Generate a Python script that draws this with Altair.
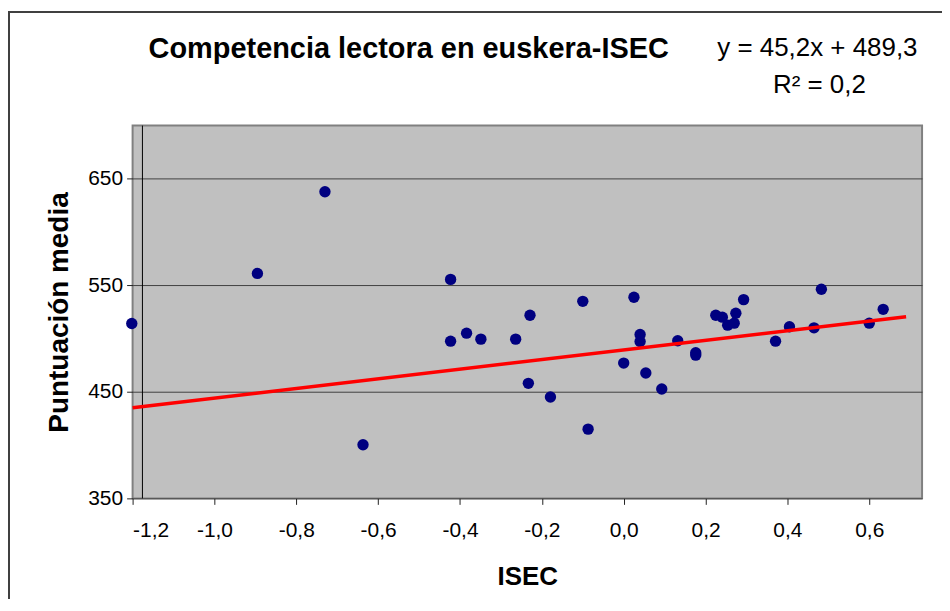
import altair as alt
import pandas as pd

# ---- data ----
isec = [-1.202, -0.895, -0.730, -0.637, -0.423, -0.423, -0.384, -0.349, -0.264,
        -0.229, -0.233, -0.179, -0.100, -0.087, 0.000, 0.025, 0.040, 0.040,
        0.054, 0.093, 0.132, 0.176, 0.176, 0.225, 0.241, 0.254, 0.270, 0.274,
        0.293, 0.371, 0.405, 0.465, 0.483, 0.600, 0.634]
puntuacion = [514.2, 561.2, 637.9, 400.3, 555.6, 497.6, 505.1, 499.5, 499.5,
              521.9, 458.0, 445.2, 535.0, 415.0, 477.0, 538.8, 503.9, 497.3,
              467.7, 452.7, 498.0, 486.8, 484.5, 521.9, 520.1, 512.6, 514.5, 523.8,
              536.6, 497.6, 511.1, 510.1, 546.3, 514.5, 527.5]

trend_x = [-1.2, 0.69]
trend_y = [435.1, 520.5]

axis_cross_x = [-1.176]

x_ticks = [-1.2, -1.0, -0.8, -0.6, -0.4, -0.2, 0.0, 0.2, 0.4, 0.6]
y_ticks = [350, 450, 550, 650]

title_text = "Competencia lectora en euskera-ISEC"
eq_line1 = "y = 45,2x + 489,3"
eq_line2 = "R² = 0,2"
x_title = "ISEC"
y_title = "Puntuación media"

FONT = "Liberation Sans"

pts = pd.DataFrame({"ISEC": isec, "P": puntuacion})
trend = pd.DataFrame({"ISEC": trend_x, "P": trend_y})
cross = pd.DataFrame({"ISEC": axis_cross_x})

xscale = alt.Scale(domain=[-1.2, 0.729], nice=False, zero=False)
yscale = alt.Scale(domain=[350, 700], nice=False, zero=False)

x_axis = alt.Axis(
    values=x_ticks,
    labelExpr="(datum.value < -0.001 ? '-' : '') + replace(format(abs(datum.value), '.1f'), '.', ',')",
    grid=False, domain=False, ticks=True, tickSize=6, tickColor="#222222",
    labelFont=FONT, labelFontSize=21, labelColor="#000000",
    labelBaseline="alphabetic", labelPadding=32,
    title=x_title, titleFont=FONT, titleFontSize=26, titleFontWeight="bold",
    titleColor="#000000", titleBaseline="alphabetic", titleY=86,
)
y_axis = alt.Axis(
    values=y_ticks, format="d",
    grid=True, gridColor="#404040", gridWidth=1,
    domain=False, ticks=True, tickSize=6, tickColor="#222222",
    labelFont=FONT, labelFontSize=21, labelColor="#000000", labelPadding=4,
    title=y_title, titleFont=FONT, titleFontSize=28, titleFontWeight="bold",
    titleColor="#000000", titleBaseline="alphabetic", titleX=-65, titleY=187,
    titleAngle=-90,
)

border = alt.Chart(pd.DataFrame({"a": [0]})).mark_rect(
    fillOpacity=0, stroke="#404040", strokeWidth=2
).encode(
    x=alt.value(-124), x2=alt.value(900), y=alt.value(-114), y2=alt.value(600)
)

rule = alt.Chart(cross).mark_rule(color="#000000", strokeWidth=1).encode(
    x=alt.X("ISEC:Q", scale=xscale, axis=x_axis)
)

points = alt.Chart(pts).mark_circle(size=130, color="#000080", opacity=1).encode(
    x=alt.X("ISEC:Q", scale=xscale, axis=x_axis),
    y=alt.Y("P:Q", scale=yscale, axis=y_axis),
)

line = alt.Chart(trend).mark_line(color="#FF0000", strokeWidth=3.5).encode(
    x=alt.X("ISEC:Q", scale=xscale, axis=x_axis),
    y=alt.Y("P:Q", scale=yscale, axis=y_axis),
)

def label(text, x, y, size, weight="normal"):
    return alt.Chart(pd.DataFrame({"t": [text]})).mark_text(
        font=FONT, fontSize=size, fontWeight=weight, color="#000000",
        align="center", baseline="alphabetic"
    ).encode(x=alt.value(x), y=alt.value(y), text="t:N")

title = label(title_text, 277, -68, 29, "bold")
eq1 = label(eq_line1, 687, -70, 26)
eq2 = label(eq_line2, 689, -33, 26)

chart = alt.layer(border, rule, points, line, title, eq1, eq2).properties(
    width=792, height=374,
    autosize=alt.AutoSizeParams(type="none"),
    padding={"left": 125, "top": 117, "right": 20, "bottom": 100},
    background="#FFFFFF",
).configure_view(
    fill="#C0C0C0", stroke="#808080", strokeWidth=2
)

chart.save("out.html", embed_options={"renderer": "svg", "actions": False})
